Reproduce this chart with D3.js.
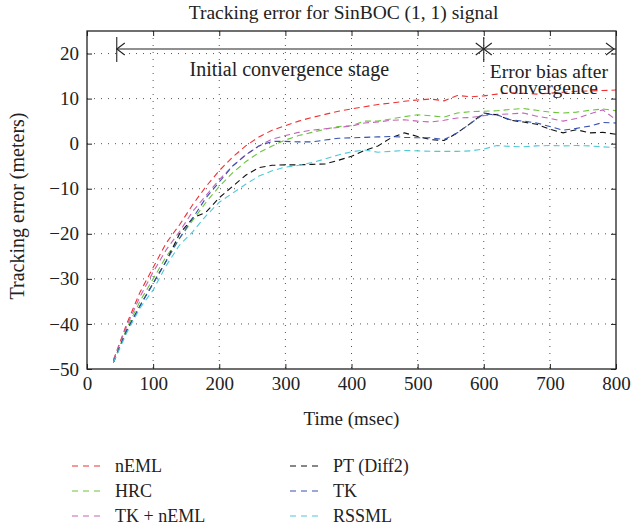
<!DOCTYPE html>
<html><head><meta charset="utf-8">
<script src="https://cdn.jsdelivr.net/npm/d3@7"></script>
<style>body{margin:0;background:#fff}svg{display:block}text{font-family:"Liberation Serif","DejaVu Serif",serif;fill:#222}</style>
</head><body><svg id="c" width="634" height="531"></svg>
<script>
const timeMs = [40,60,80,100,120,140,160,180,200,220,240,260,280,300,320,340,360,380,400,420,440,460,480,500,520,540,560,580,600,620,640,660,680,700,720,740,760,780,800];
const nEML = [-48,-40,-33,-27.5,-22,-18,-13.5,-9.5,-6,-3,-0.5,1.5,3,4,5,5.8,6.5,7.2,7.7,8.2,8.7,9.0,9.4,9.7,9.9,9.5,10.7,10.4,10.6,11.0,11.3,11.2,11.0,11.2,11.4,11.6,11.7,11.8,11.9];
const HRC = [-48.5,-41,-35,-30,-25,-21,-17,-13,-9.5,-6.5,-4,-2,-0.5,0.8,1.8,2.5,3.2,3.8,4.0,5.0,5.0,5.5,6.0,6.4,6.2,5.9,6.8,7.1,7.2,7.3,7.6,7.8,7.4,7.0,6.8,7.0,7.4,7.7,7.3];
const TKnEML = [-48,-40.5,-34,-28.5,-23.5,-19.5,-15,-11.5,-8,-5,-2.5,-0.5,1.0,1.8,2.5,3.0,3.3,3.6,3.9,4.6,4.8,5.2,5.3,5.0,4.8,5.2,5.7,5.8,6.2,6.5,6.6,6.8,6.1,5.6,5.0,5.6,6.6,7.5,5.3];
const PTDiff2 = [-48.5,-41.5,-36,-31,-26,-20,-16.5,-15.2,-12,-9.5,-7,-5.3,-4.8,-4.7,-4.7,-4.6,-4.5,-3.7,-2.8,-1.5,-0.5,1.3,2.4,1.6,0.9,0.7,2.4,4.5,6.8,6.4,5.2,4.8,4.3,3.2,2.4,3.1,2.4,2.5,2.1];
const TK = [-48.5,-41.5,-36,-31,-26,-21,-16.5,-12,-8.5,-5,-2.5,-0.5,0.5,0.5,0.4,0.4,0.8,1.2,1.3,1.4,1.5,1.6,1.4,1.3,1.3,0.9,2.4,4.5,6.6,6.4,5.3,5.0,4.6,3.8,3.0,3.4,3.9,4.7,4.6];
const RSSML = [-48.5,-42,-36.5,-32.5,-27,-22.5,-19.5,-16,-13,-11,-9,-7.2,-6,-5.2,-4.8,-4.2,-3.4,-2.5,-1.8,-1.4,-1.9,-1.7,-1.5,-1.6,-1.7,-1.7,-1.7,-1.6,-1.2,-0.4,-0.6,-0.7,-0.5,-0.4,-0.5,-0.4,-0.5,-0.7,-0.9];
const seriesNames = ["nEML","HRC","TK + nEML","PT (Diff2)","TK","RSSML"];
const seriesValues = [nEML,HRC,TKnEML,PTDiff2,TK,RSSML];
const seriesColors = ["#f03030","#6cc43c","#c462b8","#111111","#3452b0","#4fc8d8"];
const xTicks = [0,100,200,300,400,500,600,700,800];
const yTicks = [-50,-40,-30,-20,-10,0,10,20];
const titleText = "Tracking error for SinBOC (1, 1) signal";
const xLabel = "Time (msec)";
const yLabel = "Tracking error (meters)";
const stageX = [45,600,800];
const stageLabels = ["Initial convergence stage","Error bias after","convergence"];

const svg = d3.select("#c");
const L=87,R=616,T=31,B=369;
const x = d3.scaleLinear().domain([0,800]).range([L,R]);
const y = d3.scaleLinear().domain([-50,25]).range([B,T]);
const fmt = d=> d<0 ? "\u2212"+Math.abs(d) : String(d);

// grid
const g = svg.append("g");
g.selectAll(".gx").data(xTicks.slice(1,-1)).join("line")
 .attr("x1",d=>x(d)).attr("x2",d=>x(d)).attr("y1",T).attr("y2",B)
 .attr("stroke","#555").attr("stroke-width",1).attr("stroke-dasharray","1,6");
g.selectAll(".gy").data(yTicks.slice(1)).join("line")
 .attr("y1",d=>y(d)).attr("y2",d=>y(d)).attr("x1",L).attr("x2",R)
 .attr("stroke","#555").attr("stroke-width",1).attr("stroke-dasharray","1,6");

// series
const line = d3.line().x((d,i)=>x(timeMs[i])).y(d=>y(d));
seriesValues.forEach((vals,k)=>{
  svg.append("path").datum(vals).attr("d",line).attr("fill","none")
   .attr("stroke",seriesColors[k]).attr("stroke-width",1.1).attr("stroke-dasharray","6,4");
});

// axes
const fs = "19px";
const ax = svg.append("g").attr("transform",`translate(0,${B})`)
  .call(d3.axisBottom(x).tickValues(xTicks).tickSize(-5).tickPadding(8).tickFormat(fmt));
const ay = svg.append("g").attr("transform",`translate(${L},0)`)
  .call(d3.axisLeft(y).tickValues(yTicks).tickSize(-5).tickPadding(8).tickFormat(fmt));
svg.append("g").attr("transform",`translate(0,${T})`).call(d3.axisTop(x).tickValues(xTicks).tickSize(-5).tickFormat(""));
svg.append("g").attr("transform",`translate(${R},0)`).call(d3.axisRight(y).tickValues(yTicks).tickSize(-5).tickFormat(""));
svg.selectAll(".domain").remove();
svg.selectAll(".tick line").attr("stroke","#222");
[ax,ay].forEach(a=>a.selectAll("text").style("font-size",fs).style("font-family","Liberation Serif").attr("fill","#222"));
svg.append("rect").attr("x",L).attr("y",T).attr("width",R-L).attr("height",B-T)
  .attr("fill","none").attr("stroke","#222").attr("stroke-width",1.3);

// titles
svg.append("text").attr("x",(L+R)/2-8).attr("y",19).attr("text-anchor","middle").style("font-size","19.5px").text(titleText);
svg.append("text").attr("x",(L+R)/2).attr("y",425).attr("text-anchor","middle").style("font-size","19px").text(xLabel);
svg.append("text").attr("transform",`translate(24,${(T+B)/2+6}) rotate(-90)`).attr("text-anchor","middle").style("font-size","20px").text(yLabel);

// annotations
const ay0 = y(21);
const ann = svg.append("g").attr("stroke","#222").attr("stroke-width",1.1).attr("fill","none");
ann.append("line").attr("x1",x(stageX[0])).attr("x2",x(stageX[2])).attr("y1",ay0).attr("y2",ay0);
ann.append("line").attr("x1",x(stageX[0])).attr("x2",x(stageX[0])).attr("y1",ay0-12).attr("y2",ay0+13);
ann.append("line").attr("x1",x(stageX[1])).attr("x2",x(stageX[1])).attr("y1",ay0-12).attr("y2",ay0+13);
const head = (px,dir)=>ann.append("path").attr("d",`M${px+dir*8},${ay0-6}L${px},${ay0}L${px+dir*8},${ay0+6}`);
head(x(stageX[0]),1); head(x(stageX[1]),-1); head(x(stageX[1]),1); head(x(stageX[2])-2,-1);
svg.append("text").attr("x",(x(stageX[0])+x(stageX[1]))/2-11).attr("y",76).attr("text-anchor","middle").style("font-size","20px").text(stageLabels[0]);
const t2 = svg.append("text").attr("text-anchor","middle").style("font-size","19.5px");
t2.append("tspan").attr("x",(x(stageX[1])+x(stageX[2]))/2-1).attr("y",78).text(stageLabels[1]);
t2.append("tspan").attr("x",(x(stageX[1])+x(stageX[2]))/2-1).attr("dy",16).text(stageLabels[2]);

// legend
const lg = svg.append("g");
seriesNames.forEach((n,k)=>{
  const col = Math.floor(k/3), row = k%3;
  const lx = col===0 ? 72 : 290, ly = 466 + row*25;
  lg.append("line").attr("x1",lx).attr("x2",lx+29).attr("y1",ly).attr("y2",ly)
    .attr("stroke",seriesColors[k]).attr("stroke-width",1.1).attr("stroke-dasharray","6,5");
  lg.append("text").attr("x",lx+43).attr("y",ly+6).style("font-size","18px").text(n);
});
</script></body></html>
